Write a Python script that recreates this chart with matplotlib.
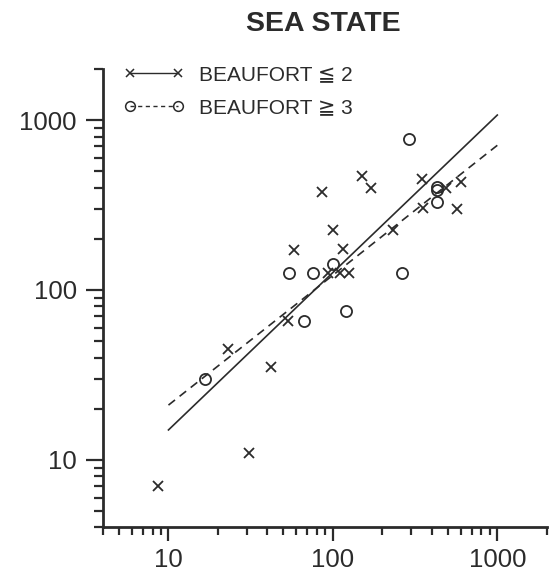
import matplotlib
matplotlib.use("Agg")
import matplotlib.pyplot as plt
from matplotlib.lines import Line2D
from matplotlib.legend_handler import HandlerLine2D
from matplotlib.ticker import LogLocator, NullFormatter, FixedLocator

# Beaufort <= 2 (crosses)
calm_x = [8.6, 31, 23, 42, 53, 58, 86, 94, 110, 126, 115, 100, 150, 170,
          232, 350, 353, 490, 570, 600]
calm_y = [7.0, 11, 45, 35, 66, 172, 375, 125, 125, 125, 175, 225, 470, 400,
          225, 450, 303, 400, 300, 430]

# Beaufort >= 3 (circles)
rough_x = [16.6, 67, 54, 76, 100, 120, 265, 290, 430, 430, 430]
rough_y = [30, 66, 125, 125, 142, 75, 125, 770, 405, 385, 330]

# fitted lines (end points)
fit_x = [10, 1000]
calm_fit_y = [15, 1070]
rough_fit_y = [21, 710]

labels = ["BEAUFORT \u2266 2", "BEAUFORT \u2267 3"]
ink = "#2b2b2b"

plt.rcParams['font.family'] = ['Liberation Sans', 'DejaVu Sans']

fig = plt.figure(figsize=(5.54, 5.79), dpi=100)
ax = fig.add_axes([0.186, 0.089, 0.801, 0.792])

ax.plot(calm_x, calm_y, linestyle='none', marker='x', ms=7, mew=1.3, color=ink)
ax.plot(rough_x, rough_y, linestyle='none', marker='o', ms=8, mew=1.3,
        mfc='none', mec=ink)
ax.plot(fit_x, calm_fit_y, '-', lw=1.2, color=ink)
ax.plot(fit_x, rough_fit_y, lw=1.2, color=ink, linestyle=(0, (5, 3.5)))

ax.set_xscale('log')
ax.set_yscale('log')
ax.set_xlim(4, 2000)
ax.set_ylim(4, 2000)

for s in ['top', 'right']:
    ax.spines[s].set_visible(False)
for s in ['left', 'bottom']:
    ax.spines[s].set_linewidth(2.0)
    ax.spines[s].set_color(ink)

ax.xaxis.set_major_locator(FixedLocator([10, 100, 1000]))
ax.yaxis.set_major_locator(FixedLocator([10, 100, 1000]))
ax.set_xticklabels(['10', '100', '1000'])
ax.set_yticklabels(['10', '100', '1000'])
ax.xaxis.set_minor_locator(LogLocator(base=10, subs=range(2, 10), numticks=20))
ax.yaxis.set_minor_locator(LogLocator(base=10, subs=range(2, 10), numticks=20))
ax.xaxis.set_minor_formatter(NullFormatter())
ax.yaxis.set_minor_formatter(NullFormatter())

ax.tick_params(axis='x', which='major', direction='out', length=10, width=1.6,
               pad=5, labelsize=18.5, colors=ink)
ax.tick_params(axis='x', which='minor', direction='out', length=6, width=1.6,
               colors=ink)
ax.tick_params(axis='y', which='major', direction='out', length=12, width=1.6,
               pad=7, labelsize=18.5, colors=ink)
ax.tick_params(axis='y', which='minor', direction='out', length=6.5, width=1.6,
               colors=ink)

h_calm = Line2D([], [], color=ink, lw=1.0, marker='x', ms=5.5, mew=1.1)
h_rough = Line2D([], [], color=ink, lw=1.0, linestyle=(0, (3, 2.5)), marker='o',
                 ms=7, mew=1.1, mfc='none', mec=ink)
leg = fig.legend([h_calm, h_rough], labels, loc='upper left',
                 bbox_to_anchor=(0.235, 0.888), frameon=False, fontsize=15,
                 borderpad=0, borderaxespad=0, handlelength=2.3,
                 handletextpad=1.0, labelspacing=0.7,
                 handler_map={h_calm: HandlerLine2D(numpoints=2, marker_pad=0),
                              h_rough: HandlerLine2D(numpoints=2, marker_pad=0)})
for t in leg.get_texts():
    t.set_color(ink)

fig.text(0.584, 0.959, "SEA STATE", ha='center', va='center', fontsize=20.5,
         fontweight='bold', color=ink)

fig.savefig("out.png", dpi=100, facecolor='white')
